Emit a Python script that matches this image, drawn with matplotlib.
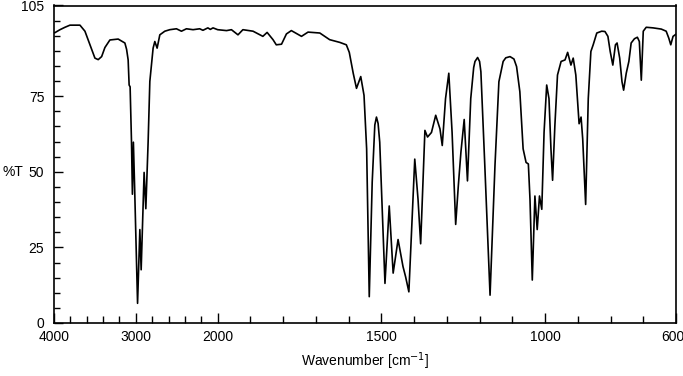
import numpy as np
import matplotlib
matplotlib.use("Agg")
import matplotlib.pyplot as plt
from matplotlib.ticker import FixedLocator

# IR spectrum (wavenumber in cm-1, transmittance in %)
wavenumber = [
    3990, 3927, 3866, 3805, 3683, 3622, 3561, 3500, 3460, 3418,
    3378, 3317, 3216, 3134, 3113, 3094, 3082, 3070, 3053, 3042,
    3030, 3015, 2979, 2951, 2935, 2899, 2878, 2850, 2829, 2789,
    2768, 2740, 2707, 2646, 2585, 2504, 2443, 2382, 2301, 2220,
    2180, 2120, 2090, 2057, 2000,
    1973, 1958, 1938, 1923, 1892, 1862, 1849, 1831, 1821, 1805,
    1790, 1775, 1744, 1724, 1688, 1658, 1627, 1607, 1598, 1586,
    1576, 1563, 1553, 1545, 1537, 1528, 1520, 1515, 1510, 1505,
    1489, 1476, 1464, 1449, 1434, 1426, 1416, 1398, 1388, 1380,
    1367, 1359, 1347, 1334, 1321, 1314, 1304, 1294, 1284, 1273,
    1265, 1257, 1247, 1237, 1227, 1218, 1214, 1206, 1200, 1196,
    1184, 1168, 1153, 1141, 1128, 1120, 1107, 1095, 1087, 1077,
    1067, 1058, 1051, 1046, 1039, 1031, 1024, 1017, 1010, 1003,
    995, 988, 982, 977, 970, 962, 951, 939, 931, 921,
    914, 906, 896, 890, 885, 876, 868, 860, 853, 842,
    827, 817, 808, 801, 793, 785, 780, 772, 765, 760,
    752, 744, 737, 727, 718, 712, 706, 700, 691, 670,
    645, 630, 622, 616, 609, 600,
]
transmittance = [
    96.0, 97.0, 97.8, 98.5, 98.5, 96.5, 92.0, 87.6, 87.1, 88.1,
    91.1, 93.6, 93.9, 92.6, 90.5, 87.0, 78.7, 78.1, 59.8, 42.6,
    59.8, 45.0, 6.5, 30.9, 17.6, 49.8, 37.8, 59.8, 79.9, 90.9,
    93.1, 90.9, 95.3, 96.5, 97.0, 97.3, 96.5, 97.3, 97.0, 97.3,
    96.8, 97.6, 97.1, 97.6, 97.0,
    96.7, 97.0, 95.3, 97.0, 96.5, 94.8, 96.1, 93.7, 92.0, 92.2,
    95.6, 96.7, 94.8, 96.2, 95.9, 93.7, 92.8, 92.0, 89.5, 82.6,
    77.6, 81.5, 75.3, 57.6, 8.7, 46.6, 65.5, 68.1, 66.0, 59.8,
    13.1, 38.7, 16.5, 27.6, 18.7, 15.3, 10.3, 54.2, 40.9, 26.2,
    63.7, 61.5, 63.0, 68.7, 64.2, 58.7, 74.2, 82.6, 63.1, 32.6,
    45.3, 56.5, 67.3, 47.0, 74.2, 84.5, 86.5, 87.8, 86.5, 83.1,
    52.0, 9.2, 52.0, 79.8, 86.5, 87.7, 88.1, 87.3, 84.8, 76.5,
    57.6, 53.1, 52.6, 40.9, 14.2, 42.0, 30.9, 42.0, 37.6, 63.1,
    78.7, 74.2, 57.6, 47.2, 65.3, 82.0, 86.5, 87.0, 89.5, 85.3,
    87.6, 82.0, 65.9, 68.1, 60.9, 39.2, 74.2, 89.8, 92.0, 95.9,
    96.5, 96.4, 94.8, 89.8, 85.3, 92.0, 92.6, 87.6, 79.8, 77.0,
    82.6, 86.5, 92.6, 94.0, 94.5, 93.1, 80.3, 96.5, 97.8, 97.6,
    97.2, 96.5, 94.2, 92.0, 94.8, 95.5,
]

x_labels = [4000, 3000, 2000, 1500, 1000, 600]
y_labels = [0, 25, 50, 75, 105]


# the region above 2000 cm-1 is drawn 4x compressed
def fwd(w):
    w = np.asarray(w, dtype=float)
    return np.where(w > 2000, 2000 + (w - 2000) / 4.0, w)


def inv(g):
    g = np.asarray(g, dtype=float)
    return np.where(g > 2000, 2000 + (g - 2000) * 4.0, g)


plt.rcParams["font.family"] = ["Liberation Sans", "DejaVu Sans"]

fig = plt.figure(figsize=(6.83, 3.76), dpi=100)
ax = fig.add_axes([54 / 683, 1 - 323 / 376, 622 / 683, 317.5 / 376])

ax.plot(wavenumber, transmittance, color="black", lw=1.2)

ax.set_xscale("function", functions=(fwd, inv))
ax.set_xlim(4000, 600)
ax.set_ylim(0, 105)

minor_x = list(range(4000, 2000, -200)) + list(range(2000, 599, -100))
ax.xaxis.set_major_locator(FixedLocator(x_labels))
ax.xaxis.set_minor_locator(FixedLocator(minor_x))
ax.set_xticklabels([str(v) for v in x_labels])
ax.yaxis.set_major_locator(FixedLocator(y_labels))
ax.yaxis.set_minor_locator(FixedLocator(list(range(0, 106, 5))))
ax.set_yticklabels([str(v) for v in y_labels])

ax.tick_params(axis="x", which="major", direction="in", length=7.5, width=1, labelsize=10, pad=5)
ax.tick_params(axis="x", which="minor", direction="in", length=5, width=1)
ax.tick_params(axis="y", which="major", direction="in", length=6.5, width=1, labelsize=10, pad=7)
ax.tick_params(axis="y", which="minor", direction="in", length=4, width=1)

# last label sits flush with the right edge of the figure
last = ax.get_xticklabels()[-1]
last.set_horizontalalignment("right")
last.set_x(last.get_position()[0])
import matplotlib.transforms as mtransforms
last.set_transform(last.get_transform() + mtransforms.ScaledTranslation(6 / 72, 0, fig.dpi_scale_trans))

for sp in ax.spines.values():
    sp.set_linewidth(1.2)

ax.set_xlabel("Wavenumber [cm$^{-1}$]", fontsize=10)
ax.xaxis.set_label_coords(0.5, -0.085)
ax.set_ylabel("%T", fontsize=10, rotation=0, va="center", ha="center")
ax.yaxis.set_label_coords(-0.066, 50 / 105)

fig.savefig("out.png", dpi=100)
